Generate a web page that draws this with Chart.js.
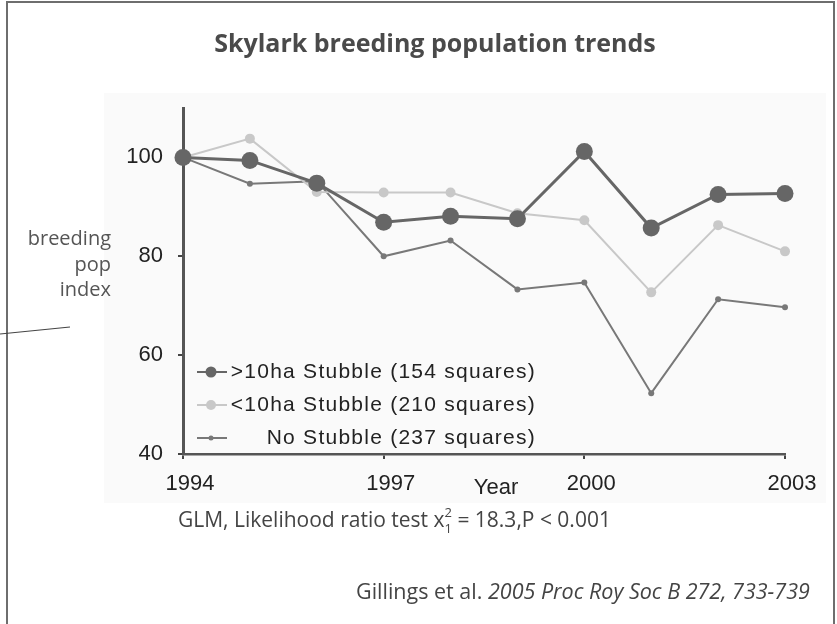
<!DOCTYPE html>
<html>
<head>
<meta charset="utf-8">
<title>Skylark breeding population trends</title>
<script src="https://cdn.jsdelivr.net/npm/chart.js@4.4.1/dist/chart.umd.min.js"></script>
<style>
  html, body { margin: 0; padding: 0; background: #ffffff; }
  #wrap { position: relative; width: 837px; height: 624px; }
</style>
</head>
<body>
<div id="wrap"><canvas id="chart"></canvas></div>
<script>
// Breeding population index by year (1994 = 100)
const years = [1994, 1995, 1996, 1997, 1998, 1999, 2000, 2001, 2002, 2003];
const over10ha = [100, 99.4, 94.8, 86.9, 88.1, 87.6, 101.2, 85.7, 92.5, 92.7];
const under10ha = [100, 103.8, 93.0, 92.9, 92.9, 88.7, 87.3, 72.7, 86.3, 81.0];
const noStubble = [100, 94.7, 95.2, 80.0, 83.2, 73.3, 74.7, 52.3, 71.3, 69.7];

const seriesLabels = [
  '>10ha Stubble (154 squares)',
  '<10ha Stubble (210 squares)',
  'No Stubble (237 squares)'
];
const xTickValues = [1994, 1997, 2000, 2003];
const yTickValues = [40, 60, 80, 100];

const titleText = 'Skylark breeding population trends';
const sideLabel = ['breeding', 'pop', 'index'];
const xTitle = 'Year';
const statsText = ['GLM, Likelihood ratio test x', '2', '1', ' = 18.3,P < 0.001'];
const citeAuthors = 'Gillings et al. ';
const citeRef = '2005 Proc Roy Soc B 272, 733-739';

const tickFont = { family: '"Liberation Sans", Arial, sans-serif', size: 22 };
const textFamily = '"Open Sans", "Noto Sans", sans-serif';

function points(values) {
  return years.map((yr, i) => ({ x: yr, y: values[i] }));
}

// Page furniture: backdrop, frame, headings, notes and the in-plot legend
const decorations = {
  id: 'decorations',
  beforeDraw(chart) {
    const ctx = chart.ctx;
    ctx.save();
    ctx.fillStyle = '#fafafa';
    ctx.fillRect(104, 93, 722, 410);
    ctx.restore();
  },
  afterDraw(chart) {
    const ctx = chart.ctx;
    ctx.save();

    // frame
    ctx.strokeStyle = '#6e6e6e';
    ctx.lineWidth = 2;
    ctx.beginPath();
    ctx.moveTo(7, 624);
    ctx.lineTo(7, 2);
    ctx.lineTo(834, 2);
    ctx.lineTo(834, 624);
    ctx.stroke();

    // leader line from the side label
    ctx.strokeStyle = '#444';
    ctx.lineWidth = 1.2;
    ctx.beginPath();
    ctx.moveTo(0, 334);
    ctx.lineTo(70, 327);
    ctx.stroke();

    // title
    ctx.fillStyle = '#4a4a4a';
    ctx.font = 'bold 25px ' + textFamily;
    ctx.textAlign = 'center';
    ctx.textBaseline = 'middle';
    ctx.fillText(titleText, 435, 45);

    // side label
    ctx.fillStyle = '#555';
    ctx.font = '20px ' + textFamily;
    ctx.textAlign = 'right';
    const sideY = [239, 265, 290];
    sideLabel.forEach((t, i) => ctx.fillText(t, 111, sideY[i]));

    // x axis title
    ctx.fillStyle = '#222';
    ctx.font = '22px ' + tickFont.family;
    ctx.textAlign = 'center';
    ctx.fillText(xTitle, 496, 488);

    // statistics note with super/subscript
    ctx.fillStyle = '#444';
    ctx.textAlign = 'left';
    ctx.textBaseline = 'alphabetic';
    let x = 178;
    const base = 527;
    ctx.font = '21px ' + textFamily;
    ctx.fillText(statsText[0], x, base);
    x += ctx.measureText(statsText[0]).width;
    ctx.font = '13px ' + textFamily;
    ctx.fillText(statsText[1], x, base - 10);
    ctx.fillText(statsText[2], x, base + 6);
    x += ctx.measureText(statsText[1]).width;
    ctx.font = '21px ' + textFamily;
    ctx.fillText(statsText[3], x, base);

    // citation
    let cx = 356;
    const cBase = 599;
    ctx.font = '21.5px ' + textFamily;
    ctx.fillText(citeAuthors, cx, cBase);
    cx += ctx.measureText(citeAuthors).width;
    ctx.font = 'italic 21.5px ' + textFamily;
    ctx.fillText(citeRef, cx, cBase);

    // legend inside the plot area
    const rows = [372, 405, 438];
    ctx.font = '21px ' + tickFont.family;
    ctx.letterSpacing = '1.25px';
    ctx.textAlign = 'right';
    ctx.textBaseline = 'middle';
    chart.data.datasets.forEach((ds, i) => {
      const y = rows[i];
      ctx.strokeStyle = ds.borderColor;
      ctx.lineWidth = 2;
      ctx.beginPath();
      ctx.moveTo(197, y);
      ctx.lineTo(227, y);
      ctx.stroke();
      ctx.fillStyle = ds.pointBackgroundColor;
      ctx.beginPath();
      ctx.arc(211, y, ds.legendRadius, 0, Math.PI * 2);
      ctx.fill();
      ctx.fillStyle = '#222';
      ctx.fillText(ds.label, 536, y);
    });

    ctx.restore();
  }
};

new Chart(document.getElementById('chart'), {
  type: 'line',
  data: {
    datasets: [
      {
        label: seriesLabels[0],
        data: points(over10ha),
        borderColor: '#666666',
        backgroundColor: '#666666',
        pointBackgroundColor: '#666666',
        pointBorderWidth: 0,
        pointRadius: 8.5,
        borderWidth: 3,
        legendRadius: 5.5,
        tension: 0,
        clip: false
      },
      {
        label: seriesLabels[1],
        data: points(under10ha),
        borderColor: '#c8c8c8',
        backgroundColor: '#c8c8c8',
        pointBackgroundColor: '#c8c8c8',
        pointBorderWidth: 0,
        pointRadius: 5,
        borderWidth: 2,
        legendRadius: 5,
        tension: 0,
        clip: false
      },
      {
        label: seriesLabels[2],
        data: points(noStubble),
        borderColor: '#787878',
        backgroundColor: '#787878',
        pointBackgroundColor: '#787878',
        pointBorderWidth: 0,
        pointRadius: 3,
        borderWidth: 2,
        legendRadius: 2.5,
        tension: 0,
        clip: false
      }
    ]
  },
  options: {
    responsive: true,
    maintainAspectRatio: false,
    animation: false,
    layout: { padding: { top: 108, right: 52, left: 0, bottom: 0 } },
    plugins: {
      legend: { display: false },
      title: { display: false },
      tooltip: { enabled: false }
    },
    scales: {
      x: {
        type: 'linear',
        min: 1994,
        max: 2003,
        afterBuildTicks: (s) => { s.ticks = xTickValues.map(v => ({ value: v })); },
        afterFit: (s) => { s.height = 170; },
        ticks: {
          font: tickFont,
          color: '#222',
          padding: 12,
          labelOffset: 7,
          maxRotation: 0,
          autoSkip: false,
          callback: (v) => String(v)
        },
        grid: { drawOnChartArea: false, drawTicks: true, tickLength: 5, color: '#444', lineWidth: 2 },
        border: { display: true, color: '#555', width: 2.5 }
      },
      y: {
        type: 'linear',
        min: 40,
        max: 110,
        afterBuildTicks: (s) => { s.ticks = yTickValues.map(v => ({ value: v })); },
        afterFit: (s) => { s.width = 183; },
        ticks: {
          font: tickFont,
          color: '#222',
          padding: 15,
          autoSkip: false,
          callback: (v) => String(v)
        },
        grid: { drawOnChartArea: false, drawTicks: true, tickLength: 5, color: '#444', lineWidth: 2 },
        border: { display: true, color: '#555', width: 3 }
      }
    }
  },
  plugins: [decorations]
});
</script>
</body>
</html>
